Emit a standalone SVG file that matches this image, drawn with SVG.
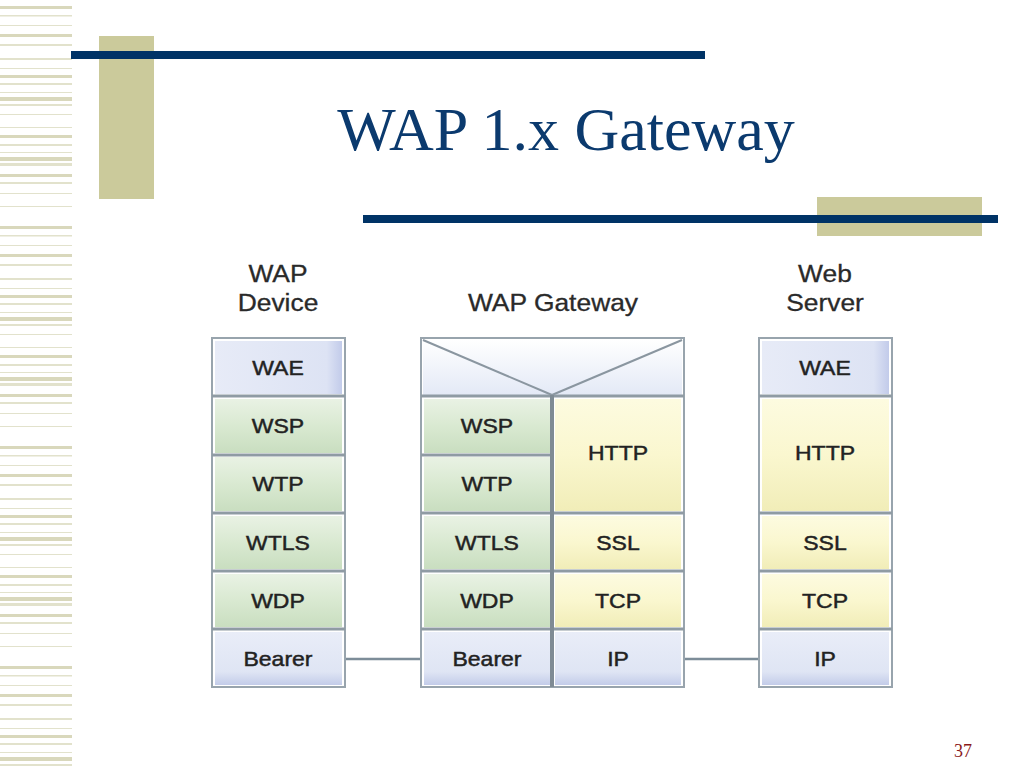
<svg xmlns="http://www.w3.org/2000/svg" width="1024" height="768" viewBox="0 0 1024 768">
<style>
.title{font-family:"Liberation Serif","Times New Roman",serif;font-size:62px;fill:#0b3a6e}
.pnum{font-family:"Liberation Serif","Times New Roman",serif;font-size:18px;fill:#8b1a1a}
.hdr{font-family:"Liberation Sans",Arial,sans-serif;font-size:24px;fill:#2a2a2a;stroke:#2a2a2a;stroke-width:0.3}
.lbl{font-family:"Liberation Sans",Arial,sans-serif;font-size:20px;fill:#222;stroke:#222;stroke-width:0.45}
.col{fill:#ffffff;stroke:#98a4ad;stroke-width:2}
.sep{stroke:#8f9ba4;stroke-width:3}
.div{stroke:#7f8b94;stroke-width:4}
.conn{stroke:#7d8d99;stroke-width:2.5;fill:none}
.tri{stroke:#8a96a0;stroke-width:2;fill:none}
.stripe{fill:#e2e2cc}
.stripe2{fill:#d9d8bc}
</style>
<defs>
<linearGradient id="gGreen" x1="0" y1="0" x2="0" y2="1">
<stop offset="0" stop-color="#e9f2e4"/><stop offset="0.5" stop-color="#d9e9d1"/><stop offset="1" stop-color="#c9dec0"/>
</linearGradient>
<linearGradient id="gYellow" x1="0" y1="0" x2="0" y2="1">
<stop offset="0" stop-color="#fdfbe0"/><stop offset="0.5" stop-color="#faf7cf"/><stop offset="1" stop-color="#f1edb8"/>
</linearGradient>
<linearGradient id="gBlue" x1="0" y1="0" x2="1" y2="0">
<stop offset="0" stop-color="#e7ebf7"/><stop offset="0.88" stop-color="#dde3f4"/><stop offset="1" stop-color="#c2cbea"/>
</linearGradient>
<linearGradient id="gBlueV" x1="0" y1="0" x2="0" y2="1">
<stop offset="0" stop-color="#e9edf8"/><stop offset="0.75" stop-color="#dfe5f4"/><stop offset="1" stop-color="#c3cce9"/>
</linearGradient>
<linearGradient id="gTop" x1="0" y1="0" x2="0" y2="1">
<stop offset="0" stop-color="#ffffff"/><stop offset="1" stop-color="#e3e9f6"/>
</linearGradient>
<pattern id="stripes" x="0" y="0" width="72" height="220" patternUnits="userSpaceOnUse">
<rect class="stripe2" x="0" y="6" width="72" height="3"/>
<rect class="stripe" x="0" y="15" width="72" height="1.5"/>
<rect class="stripe" x="0" y="25" width="72" height="1"/>
<rect class="stripe2" x="0" y="34" width="72" height="3"/>
<rect class="stripe" x="0" y="44" width="72" height="2"/>
<rect class="stripe" x="0" y="58" width="72" height="2"/>
<rect class="stripe" x="0" y="68" width="72" height="1"/>
<rect class="stripe2" x="0" y="75" width="72" height="3"/>
<rect class="stripe" x="0" y="83" width="72" height="2"/>
<rect class="stripe" x="0" y="92" width="72" height="1"/>
<rect class="stripe2" x="0" y="97" width="72" height="4"/>
<rect class="stripe" x="0" y="104" width="72" height="2"/>
<rect class="stripe" x="0" y="114" width="72" height="1"/>
<rect class="stripe" x="0" y="127" width="72" height="1"/>
<rect class="stripe2" x="0" y="135" width="72" height="3"/>
<rect class="stripe" x="0" y="144" width="72" height="2"/>
<rect class="stripe" x="0" y="152" width="72" height="1"/>
<rect class="stripe2" x="0" y="157" width="72" height="4"/>
<rect class="stripe" x="0" y="163" width="72" height="3"/>
<rect class="stripe2" x="0" y="174" width="72" height="3"/>
<rect class="stripe" x="0" y="182" width="72" height="2"/>
<rect class="stripe" x="0" y="193" width="72" height="1"/>
<rect class="stripe" x="0" y="206" width="72" height="1"/>
</pattern>
</defs>

<rect x="0" y="0" width="1024" height="768" fill="#ffffff"/>

<!-- slide decoration -->
<g id="decoration">
<rect x="0" y="0" width="72" height="768" fill="url(#stripes)"/>
<rect x="99" y="36" width="55" height="163" fill="#cbca9b"/>
<rect x="71" y="51" width="634" height="8" fill="#003366"/>
<rect x="817" y="197" width="165" height="39" fill="#cbca9b"/>
<rect x="363" y="215" width="635" height="8" fill="#003366"/>
</g>

<text class="title" x="566" y="150" text-anchor="middle">WAP 1.x Gateway</text>

<!-- headers -->
<g id="headers">
<text class="hdr" text-anchor="middle" transform="translate(278,282) scale(1.1,1)">WAP</text>
<text class="hdr" text-anchor="middle" transform="translate(278,311) scale(1.1,1)">Device</text>
<text class="hdr" text-anchor="middle" transform="translate(553,311) scale(1.1,1)">WAP Gateway</text>
<text class="hdr" text-anchor="middle" transform="translate(825,282) scale(1.1,1)">Web</text>
<text class="hdr" text-anchor="middle" transform="translate(825,311) scale(1.1,1)">Server</text>
</g>

<!-- connectors -->
<g id="connectors">
<line class="conn" x1="345" y1="659" x2="421" y2="659"/>
<line class="conn" x1="684" y1="659" x2="759" y2="659"/>
</g>

<!-- WAP Device -->
<g id="device">
<rect class="col" x="212" y="338" width="133" height="349"/>
<rect x="215" y="341" width="127" height="53" fill="url(#gBlue)"/>
<rect x="215" y="399" width="127" height="54" fill="url(#gGreen)"/>
<rect x="215" y="457" width="127" height="54" fill="url(#gGreen)"/>
<rect x="215" y="516" width="127" height="53" fill="url(#gGreen)"/>
<rect x="215" y="574" width="127" height="53" fill="url(#gGreen)"/>
<rect x="215" y="632" width="127" height="53" fill="url(#gBlueV)"/>
<line class="sep" x1="212" y1="396" x2="345" y2="396"/>
<line class="sep" x1="212" y1="455" x2="345" y2="455"/>
<line class="sep" x1="212" y1="513" x2="345" y2="513"/>
<line class="sep" x1="212" y1="571" x2="345" y2="571"/>
<line class="sep" x1="212" y1="629" x2="345" y2="629"/>
<text class="lbl" text-anchor="middle" transform="translate(278,375) scale(1.15,1)">WAE</text>
<text class="lbl" text-anchor="middle" transform="translate(278,433) scale(1.15,1)">WSP</text>
<text class="lbl" text-anchor="middle" transform="translate(278,491) scale(1.15,1)">WTP</text>
<text class="lbl" text-anchor="middle" transform="translate(278,550) scale(1.15,1)">WTLS</text>
<text class="lbl" text-anchor="middle" transform="translate(278,608) scale(1.15,1)">WDP</text>
<text class="lbl" text-anchor="middle" transform="translate(278,666) scale(1.15,1)">Bearer</text>
</g>

<!-- WAP Gateway -->
<g id="gateway">
<rect class="col" x="421" y="338" width="263" height="349"/>
<rect x="423" y="340" width="259" height="55" fill="url(#gTop)"/>
<line class="tri" x1="423" y1="340" x2="552" y2="395"/>
<line class="tri" x1="552" y1="395" x2="682" y2="340"/>
<rect x="424" y="399" width="126" height="54" fill="url(#gGreen)"/>
<rect x="424" y="457" width="126" height="54" fill="url(#gGreen)"/>
<rect x="424" y="516" width="126" height="53" fill="url(#gGreen)"/>
<rect x="424" y="574" width="126" height="53" fill="url(#gGreen)"/>
<rect x="424" y="632" width="126" height="53" fill="url(#gBlueV)"/>
<rect x="555" y="399" width="126" height="112" fill="url(#gYellow)"/>
<rect x="555" y="516" width="126" height="53" fill="url(#gYellow)"/>
<rect x="555" y="574" width="126" height="53" fill="url(#gYellow)"/>
<rect x="555" y="632" width="126" height="53" fill="url(#gBlueV)"/>
<line class="sep" x1="421" y1="396" x2="684" y2="396"/>
<line class="sep" x1="421" y1="455" x2="552" y2="455"/>
<line class="sep" x1="421" y1="513" x2="684" y2="513"/>
<line class="sep" x1="421" y1="571" x2="684" y2="571"/>
<line class="sep" x1="421" y1="629" x2="684" y2="629"/>
<line class="div" x1="552" y1="395" x2="552" y2="687"/>
<text class="lbl" text-anchor="middle" transform="translate(487,433) scale(1.15,1)">WSP</text>
<text class="lbl" text-anchor="middle" transform="translate(487,491) scale(1.15,1)">WTP</text>
<text class="lbl" text-anchor="middle" transform="translate(487,550) scale(1.15,1)">WTLS</text>
<text class="lbl" text-anchor="middle" transform="translate(487,608) scale(1.15,1)">WDP</text>
<text class="lbl" text-anchor="middle" transform="translate(487,666) scale(1.15,1)">Bearer</text>
<text class="lbl" text-anchor="middle" transform="translate(618,460) scale(1.15,1)">HTTP</text>
<text class="lbl" text-anchor="middle" transform="translate(618,550) scale(1.15,1)">SSL</text>
<text class="lbl" text-anchor="middle" transform="translate(618,608) scale(1.15,1)">TCP</text>
<text class="lbl" text-anchor="middle" transform="translate(618,666) scale(1.15,1)">IP</text>
</g>

<!-- Web Server -->
<g id="server">
<rect class="col" x="759" y="338" width="133" height="349"/>
<rect x="762" y="341" width="127" height="53" fill="url(#gBlue)"/>
<rect x="762" y="399" width="127" height="112" fill="url(#gYellow)"/>
<rect x="762" y="516" width="127" height="53" fill="url(#gYellow)"/>
<rect x="762" y="574" width="127" height="53" fill="url(#gYellow)"/>
<rect x="762" y="632" width="127" height="53" fill="url(#gBlueV)"/>
<line class="sep" x1="759" y1="396" x2="892" y2="396"/>
<line class="sep" x1="759" y1="513" x2="892" y2="513"/>
<line class="sep" x1="759" y1="571" x2="892" y2="571"/>
<line class="sep" x1="759" y1="629" x2="892" y2="629"/>
<text class="lbl" text-anchor="middle" transform="translate(825,375) scale(1.15,1)">WAE</text>
<text class="lbl" text-anchor="middle" transform="translate(825,460) scale(1.15,1)">HTTP</text>
<text class="lbl" text-anchor="middle" transform="translate(825,550) scale(1.15,1)">SSL</text>
<text class="lbl" text-anchor="middle" transform="translate(825,608) scale(1.15,1)">TCP</text>
<text class="lbl" text-anchor="middle" transform="translate(825,666) scale(1.15,1)">IP</text>
</g>

<text class="pnum" x="963" y="757" text-anchor="middle">37</text>
</svg>
